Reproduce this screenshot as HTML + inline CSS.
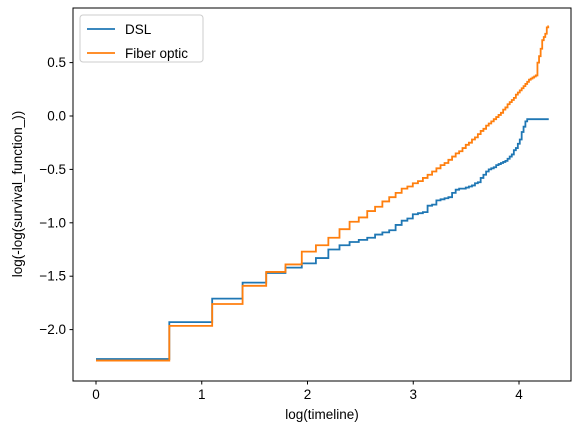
<!DOCTYPE html>
<html><head><meta charset="utf-8"><style>
body{margin:0;background:#fff;}
svg{display:block;font-family:"Liberation Sans","DejaVu Sans",sans-serif;}
</style></head><body>
<svg id="chart" width="579" height="432" xmlns="http://www.w3.org/2000/svg">
<rect x="0" y="0" width="579" height="432" fill="#fff"/>
<g id="plot"></g>
<rect x="73" y="8" width="498" height="373" fill="none" stroke="#000" stroke-width="1"/>
<g id="xt"></g><g id="yt"></g>
<text x="322" y="419" text-anchor="middle" font-size="13.5">log(timeline)</text>
<text transform="translate(22,194) rotate(-90)" text-anchor="middle" font-size="13.5">log(-log(survival_function_))</text>
<g>
<rect x="80" y="15" width="123" height="47" rx="3" fill="#fff" fill-opacity="0.8" stroke="#ccc"/>
<g><line x1="87" y1="29" x2="115" y2="29" stroke="#1f77b4" stroke-width="1.8"/><text x="125" y="34" font-size="13.5">DSL</text></g>
<g><line x1="87" y1="53" x2="115" y2="53" stroke="#ff7f0e" stroke-width="1.8"/><text x="125" y="58" font-size="13.5">Fiber optic</text></g>
</g>
</svg>
<script>
const timeline=[];for(let i=1;i<=72;i++)timeline.push(i);
const dsl=[-2.275,-1.93,-1.71,-1.56,-1.47,-1.42,-1.38,-1.33,-1.25,-1.21,-1.18,-1.16,-1.14,-1.11,-1.09,-1.07,-1.02,-0.98,-0.96,-0.92,-0.91,-0.90,-0.84,-0.83,-0.79,-0.78,-0.77,-0.76,-0.72,-0.69,-0.68,-0.68,-0.67,-0.66,-0.65,-0.63,-0.62,-0.58,-0.55,-0.52,-0.50,-0.49,-0.48,-0.46,-0.45,-0.44,-0.43,-0.42,-0.40,-0.38,-0.36,-0.32,-0.30,-0.26,-0.22,-0.15,-0.10,-0.05,-0.03,-0.03,-0.03,-0.03,-0.03,-0.03,-0.03,-0.03,-0.03,-0.03,-0.03,-0.03,-0.03,-0.03];
const fiber=[-2.29,-1.965,-1.76,-1.59,-1.46,-1.39,-1.27,-1.21,-1.14,-1.06,-0.99,-0.95,-0.89,-0.85,-0.80,-0.76,-0.72,-0.68,-0.66,-0.63,-0.61,-0.58,-0.55,-0.52,-0.49,-0.46,-0.44,-0.41,-0.38,-0.35,-0.33,-0.30,-0.27,-0.25,-0.22,-0.20,-0.17,-0.14,-0.12,-0.09,-0.07,-0.05,-0.03,-0.01,0.01,0.03,0.06,0.08,0.11,0.13,0.15,0.17,0.20,0.22,0.24,0.26,0.28,0.30,0.32,0.34,0.35,0.36,0.37,0.38,0.50,0.56,0.63,0.71,0.74,0.77,0.83,0.84];
const xTicks=[0,1,2,3,4];
const yTicks=[0.5,0.0,-0.5,-1.0,-1.5,-2.0];
const NS='http://www.w3.org/2000/svg';
function X(v){return 96+v*105.75;}
function Y(v){return 116-v*106.8;}
function mk(t,a,p){const e=document.createElementNS(NS,t);for(const k in a)e.setAttribute(k,a[k]);p.appendChild(e);return e;}
function stepPath(xs,ys){let d='';for(let i=0;i<xs.length;i++){const x=X(Math.log(xs[i])),y=Y(ys[i]);d+=(i?'L'+x+' '+Y(ys[i-1])+'L':'M')+x+' '+y;}const lx=X(Math.log(xs[xs.length-1]));return d+'L'+(lx+0.5)+' '+Y(ys[ys.length-1]);}
const plot=document.getElementById('plot');
const p1=mk('path',{d:stepPath(timeline,dsl),fill:'none',stroke:'#1f77b4','stroke-width':1.8},plot);


const p2=mk('path',{d:stepPath(timeline,fiber),fill:'none',stroke:'#ff7f0e','stroke-width':1.8},plot);


const xt=document.getElementById('xt');
xTicks.forEach(v=>{const g=mk('g',{},xt);


mk('line',{x1:X(v),x2:X(v),y1:381,y2:384.5,stroke:'#000'},g);
const t=mk('text',{x:X(v),y:399,'text-anchor':'middle','font-size':13.5},g);t.textContent=v;});
const yt=document.getElementById('yt');
yTicks.forEach(v=>{const g=mk('g',{},yt);


mk('line',{x1:69.5,x2:73,y1:Y(v),y2:Y(v),stroke:'#000'},g);
const t=mk('text',{x:66,y:Y(v)+4.5,'text-anchor':'end','font-size':13.5},g);t.textContent=(v<0?'\u2212':'')+Math.abs(v).toFixed(1);});
</script>
</body></html>
